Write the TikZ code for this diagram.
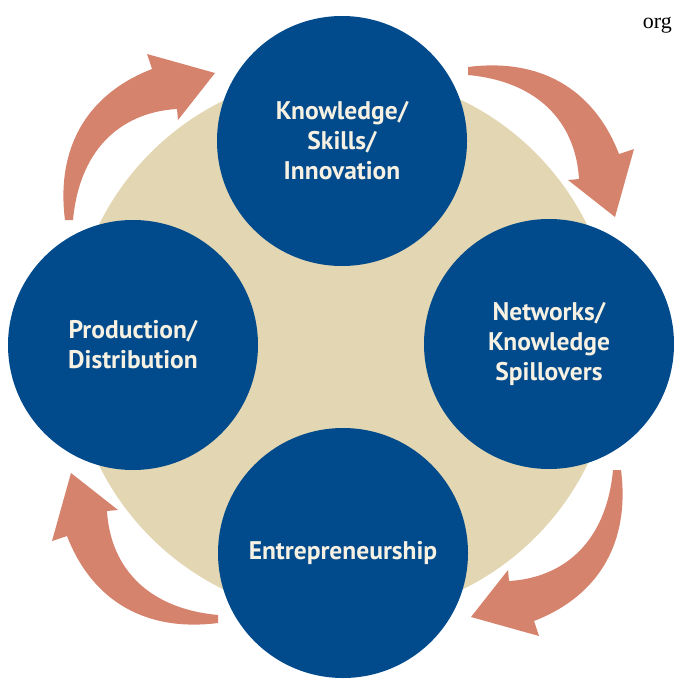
\documentclass[tikz,border=0pt]{standalone}
\usepackage{fontspec}
\newfontfamily\cyclefont{PT Sans}
\newfontfamily\pagefont{Liberation Serif}
\definecolor{cycleblue}{RGB}{1,74,139}
\definecolor{cyclebeige}{RGB}{226,214,179}
\definecolor{cyclearrow}{RGB}{214,131,110}
\definecolor{cycletext}{RGB}{246,241,226}
\begin{document}
\begin{tikzpicture}[x=1pt,y=-1pt,
  stage/.style={circle, fill=cycleblue, minimum size=250pt, inner sep=0pt, text=cycletext, align=center, font=\cyclefont\bfseries\fontsize{25.5}{30}\selectfont}]
\useasboundingbox (0,0) rectangle (673,679);
\node[circle, fill=cyclebeige, minimum size=544pt, inner sep=0pt] (hub) at (343,345){};
% the four curved arrows, one shape turned round the hub
\foreach \a in {0,-90,-180,-270}
\fill[cyclearrow, rotate around={\a:(343,345)}] (73,220) -- (65,220)
  .. controls (56,150) and (85,95) .. (152,69)
  -- (147,54) -- (215,73) -- (178,120) -- (177,109)
  .. controls (125,112) and (80,145) .. (73,220) -- cycle;
\node[stage] (know) at (342,141){Knowledge/\\Skills/\\Innovation};
\node[stage] (net) at (549,344){Networks/\\Knowledge\\Spillovers};
\node[stage] (prod) at (133,345){Production/\\Distribution};
\node[stage] (entre) at (343,553){Entrepreneurship};
\node[anchor=base east, inner sep=0pt, font=\pagefont\fontsize{22}{26}\selectfont] (org) at (672,29){org};
\end{tikzpicture}
\end{document}
